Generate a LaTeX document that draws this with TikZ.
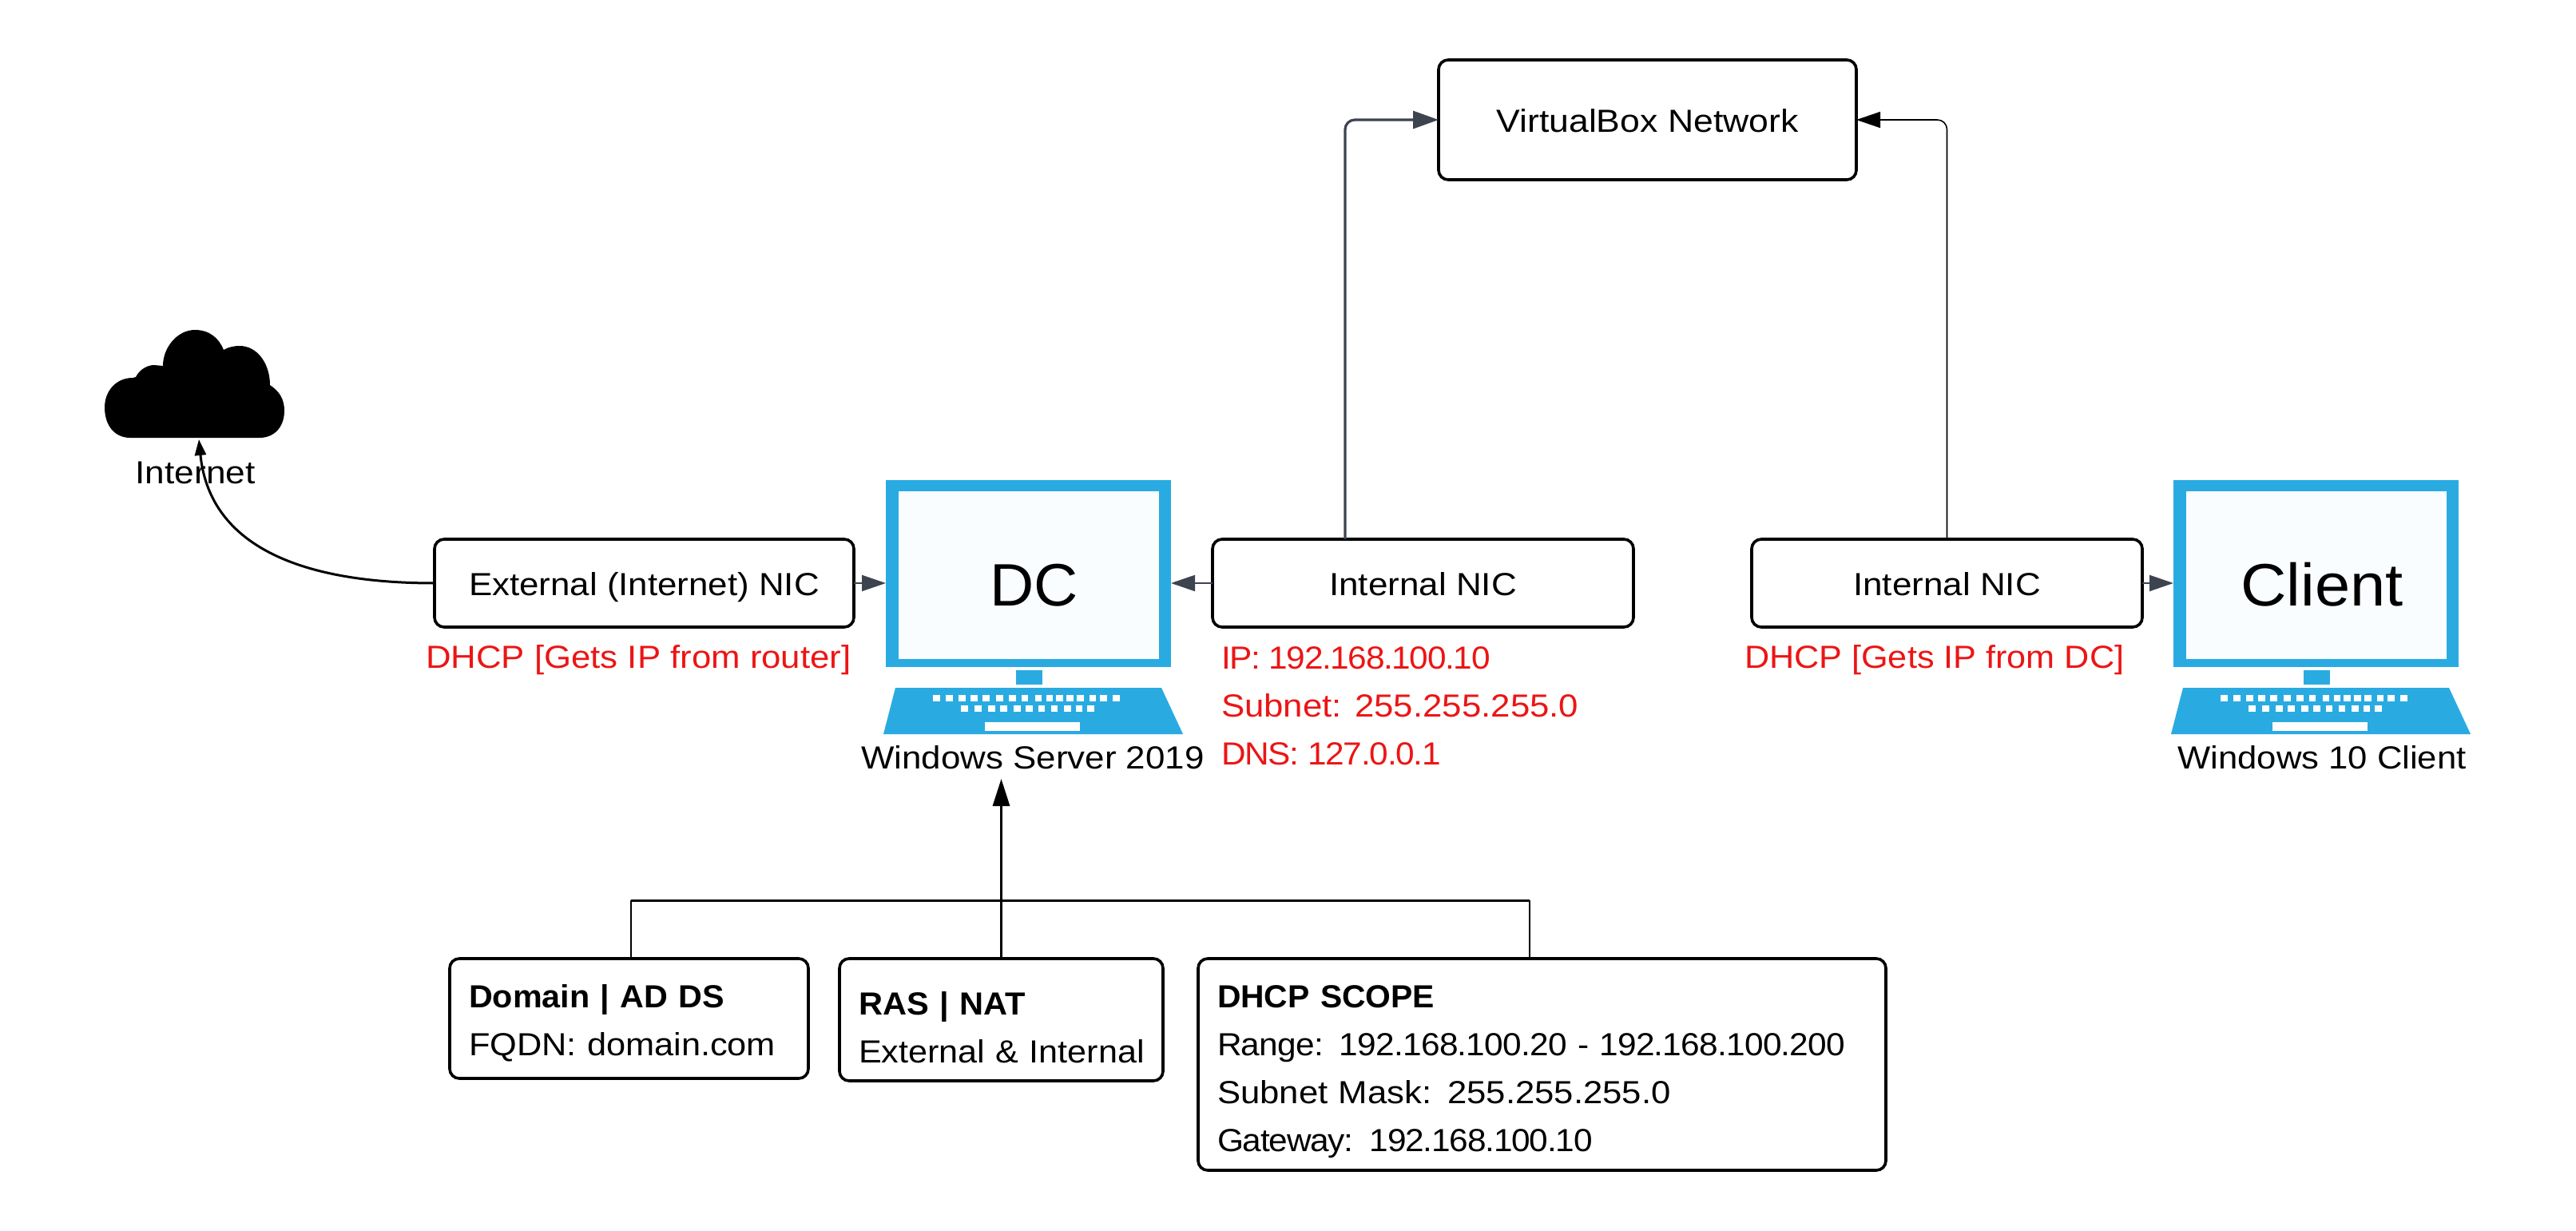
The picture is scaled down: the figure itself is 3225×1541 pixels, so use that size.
\documentclass[tikz,border=0pt]{standalone}
\usepackage{fontspec}
\setmainfont{Liberation Sans}
\usetikzlibrary{arrows.meta,calc}
\definecolor{pcblue}{HTML}{29ABE2}
\definecolor{screenw}{HTML}{FAFDFF}
\definecolor{darkarrow}{HTML}{3D4450}
\definecolor{redtxt}{HTML}{EC1515}
\newcommand{\fs}{\fontsize{20}{30}\selectfont}
\newcommand{\tl}[1]{\rule{0pt}{#1}}
\newcommand{\bl}[1]{\rule[-#1]{0pt}{#1}}
\newcommand{\st}[2]{\mbox{\addfontfeature{FakeStretch=#1}#2}}
\newcommand{\sq}[2]{\mbox{\addfontfeature{FakeStretch=1.06,LetterSpace=#1}#2}}
\newcommand{\pcicon}[3]{%
 \begin{scope}[xshift=#1]
  \node[pcscreen] (#2) at (1287.5,718) {};
  \fill[screenw] (1125,615) rectangle (1451,825);
  \fill[pcblue] (1272,839) rectangle (1305,857);
  \fill[pcblue] (1121,861) -- (1454,861) -- (1481,919) -- (1106,919) -- cycle;
  \foreach \a/\b in {324/351,372/399,420/447,465/492,510/537,561/588,609/636,657/681,708/732,750/774,786/813,826/852,865/891,912/936,951/978,999/1026}
   \fill[white] ({1060+\a/3},870) rectangle ({1060+\b/3},878);
  \foreach \a/\b in {429/456,480/507,531/558,576/603,627/654,672/699,720/744,768/792,816/843,861/885,903/930}
   \fill[white] ({1060+\a/3},883) rectangle ({1060+\b/3},891);
  \fill[white] (1233,904) rectangle (1352,915);
  \node[bigtxt] (#2label) at (1295,720) {#3};
 \end{scope}}
\tikzset{
 x=0.5pt,y=-0.5pt,
 every node/.style={outer sep=0pt},
 netbox/.style={draw=black,line width=1.8pt,rounded corners=6pt,fill=white,inner sep=0pt,font=\fs,text height=15pt,text depth=0pt,align=center},
 infobox/.style={draw=black,line width=1.8pt,rounded corners=6pt,fill=white,inner xsep=12pt,inner ysep=0pt,font=\fs,align=left},
 pcscreen/.style={fill=pcblue,minimum width=178.5pt,minimum height=117pt,inner sep=0pt},
 bigtxt/.style={font=\fontsize{37.5}{40}\selectfont,inner sep=0pt,text height=38pt,text depth=0pt},
 capt/.style={font=\fs,inner sep=0pt,anchor=base},
 redcap/.style={font=\fs,inner sep=0pt,text=redtxt,anchor=base west},
 darkconn/.style={draw=darkarrow,line width=1.6pt,-{Triangle[length=16pt,width=11pt,fill=darkarrow]}},
 shortconn/.style={draw=darkarrow,line width=1pt,-{Triangle[length=15pt,width=10pt,fill=darkarrow]}},
 thinconn/.style={draw=black,line width=0.8pt,-{Triangle[length=15pt,width=10pt]}},
 blackconn/.style={draw=black,line width=1.5pt},
}
\begin{document}
\begin{tikzpicture}
\path[use as bounding box,fill=white] (0,0) rectangle (3225,1541);

% cloud
\fill[black] (163,548) .. controls (143,548) and (131,532) .. (131,510)
 .. controls (131,490) and (145,473) .. (166,473) -- (170,472)
 .. controls (175,462) and (185,457) .. (193,457) -- (204,458)
 .. controls (204,435) and (222,413) .. (244,413)
 .. controls (262,413) and (274,423) .. (280,438)
 .. controls (285,435) and (292,433) .. (300,433)
 .. controls (322,433) and (338,455) .. (338,482)
 .. controls (350,490) and (356,500) .. (356,514)
 .. controls (356,535) and (343,548) .. (325,548) -- cycle;
\coordinate (cloudbottom) at (249,550);
\node[capt] (internet) at (244.5,605) {\st{1.105}{Internet}};

% computers
\pcicon{0pt}{dc}{\st{1.02}{DC}}
\pcicon{806pt}{client}{\st{1.06}{Client}}
\node[capt] (dccap) at (1293,962) {\st{1.097}{Windows Server 2019}};
\node[capt] (clientcap) at (2907,962) {\st{1.091}{Windows 10 Client}};

% boxes
\node[netbox,minimum width=262.5pt,minimum height=55pt] (ext) at (806.5,730) {\st{1.096}{External (Internet) NIC}};
\node[netbox,minimum width=263.5pt,minimum height=55pt] (int1) at (1781.5,730) {\st{1.10}{Internal NIC}};
\node[netbox,minimum width=244.5pt,minimum height=55pt] (int2) at (2437.5,730) {\st{1.10}{Internal NIC}};
\node[netbox,minimum width=261.5pt,minimum height=75pt] (vbox) at (2062.5,150) {\st{1.114}{VirtualBox Network}};

\node[infobox,text width=200.5pt,minimum height=75pt] (dom) at (787.5,1275) {\tl{23pt}\textbf{\st{1.033}{Domain | AD DS}}\\\st{1.083}{FQDN: domain.com}\bl{7pt}};
\node[infobox,text width=178.5pt,minimum height=76.5pt] (ras) at (1253.5,1276.5) {\tl{26.75pt}\textbf{\st{1.04}{RAS | NAT}}\\\st{1.079}{External \& Internal}\bl{3.25pt}};
\node[infobox,text width=406.5pt,minimum height=132.5pt] (scope) at (1930.5,1332.5) {\tl{29.5pt}\textbf{\st{1.021}{DHCP SCOPE}}\\\sq{-1.9}{Range: 192.168.100.20 - 192.168.100.200}\\\st{1.092}{Subnet Mask: 255.255.255.0}\\\sq{-3.0}{Gateway: 192.168.100.10}\bl{10.5pt}};

% red notes
\node[redcap] (extnote) at (533,836) {\st{1.094}{DHCP [Gets IP from router]}};
\node[redcap,anchor=north west,align=left] (intnote) at (1529,797) {\tl{20pt}\sq{-3.4}{IP: 192.168.100.10}\\\st{1.095}{Subnet: 255.255.255.0}\\\sq{-3.1}{DNS: 127.0.0.1}};
\node[redcap] (clientnote) at (2184,836) {\st{1.08}{DHCP [Gets IP from DC]}};

% connectors
\draw[blackconn,-{Triangle[length=10pt,width=7pt]}] (ext.west) .. controls (370,730) and (262,680) .. (cloudbottom);
\draw[shortconn] (ext.east) -- (ext.east -| dc.west);
\draw[shortconn] (int1.west) -- (int1.west -| dc.east);
\draw[shortconn] (int2.east) -- (int2.east -| client.west);
\coordinate (int1top) at (1684,675);
\draw[darkconn,rounded corners=6pt] (int1top) -- (int1top |- vbox.west) -- (vbox.west);
\draw[thinconn,rounded corners=6pt] (int2.north) -- (int2.north |- vbox.east) -- (vbox.east);
\coordinate (dcbottom) at (1253.5,975);
\draw[blackconn,-{Triangle[length=17pt,width=10.5pt]}] (ras.north) -- (dcbottom);
\coordinate (busL) at (790,1127);
\coordinate (busR) at (1915,1127);
\draw[black,line width=1pt] (790,1200) -- (busL);
\draw[black,line width=1pt] (1915,1200) -- (busR);
\draw[blackconn] (busL) -- (busR);
\end{tikzpicture}
\end{document}
